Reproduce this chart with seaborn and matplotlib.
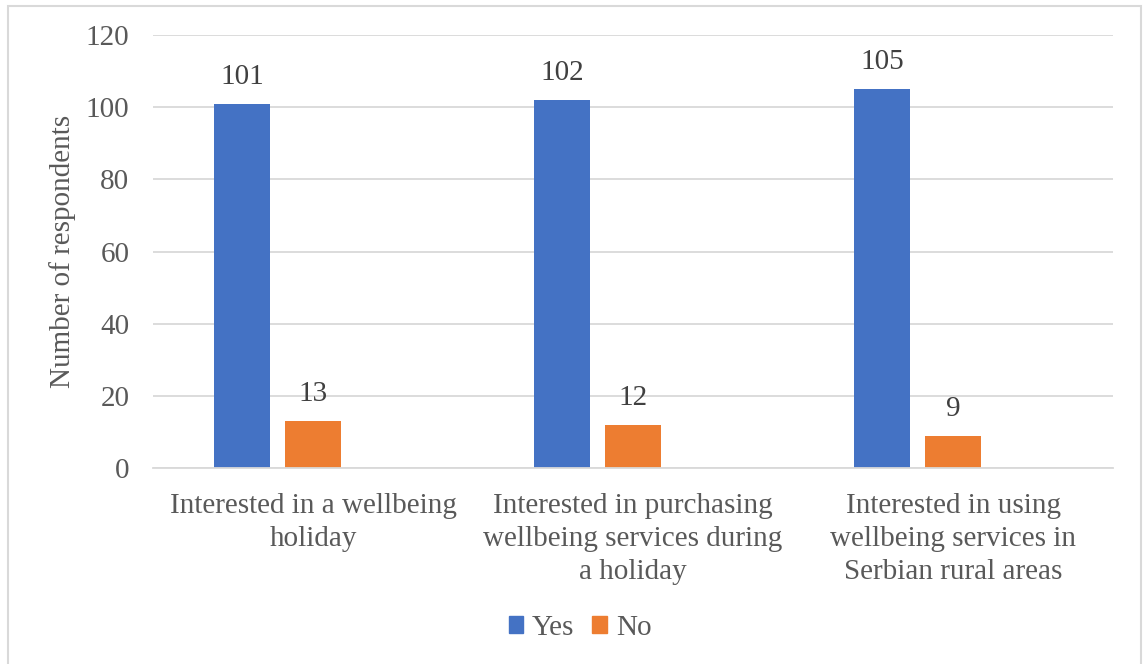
import seaborn as sns
import matplotlib.pyplot as plt
import matplotlib.patches as mpatches
import pandas as pd

categories = ['Interested in a wellbeing\nholiday',
              'Interested in purchasing\nwellbeing services during\na holiday',
              'Interested in using\nwellbeing services in\nSerbian rural areas']
yes_values = [101, 102, 105]
no_values = [13, 12, 9]
series = ['Yes', 'No']

# Excel chart had an empty third series slot, keep it so the bars sit left of centre
df = pd.DataFrame({
    'cat': categories * 3,
    'answer': ['Yes'] * 3 + ['No'] * 3 + ['_blank'] * 3,
    'count': yes_values + no_values + [0, 0, 0],
})

sns.set_theme(style='white')
plt.rcParams['font.family'] = ['Liberation Serif', 'DejaVu Serif']
grey = '#595959'
colors = {'Yes': '#4472C4', 'No': '#ED7D31', '_blank': 'white'}
fs = 21

fig = plt.figure(figsize=(11.43, 6.64), dpi=100)
ax = fig.add_axes([153 / 1143, 1 - 468 / 664, 960 / 1143, 433 / 664])

sns.barplot(data=df, x='cat', y='count', hue='answer',
            hue_order=['Yes', 'No', '_blank'], palette=colors, saturation=1,
            width=0.666, gap=0.211, linewidth=0, legend=False, ax=ax)

for cont, name in zip(ax.containers, ['Yes', 'No', '_blank']):
    if name == '_blank':
        continue
    ax.bar_label(cont, padding=10, fontsize=fs, color='#404040')

ax.set_ylim(0, 120)
ax.set_yticks(range(0, 121, 20))
ax.yaxis.grid(True, color='#D9D9D9', linewidth=1.3)
ax.set_axisbelow(True)
for s in ['top', 'right', 'left']:
    ax.spines[s].set_visible(False)
ax.spines['bottom'].set_color('#D9D9D9')
ax.spines['bottom'].set_linewidth(1.3)
ax.tick_params(axis='both', length=0, labelsize=fs, colors=grey)
ax.tick_params(axis='y', pad=17)
ax.tick_params(axis='x', pad=18)
ax.set_xlabel('')
ax.set_ylabel('Number of respondents', fontsize=fs, color=grey, labelpad=7)
for lbl in ax.get_xticklabels():
    lbl.set_linespacing(1.35)

handles = [mpatches.Patch(color=colors[s], label=s) for s in series]
fig.legend(handles=handles, loc='center', bbox_to_anchor=(0.5075, 1 - 628 / 664),
           ncol=2, frameon=False, fontsize=fs, handlelength=0.5, handleheight=0.5,
           handletextpad=0.3, columnspacing=0.62, labelcolor=grey)

fig.patches.append(mpatches.Rectangle((8 / 1143, -0.01), 1133 / 1143, 1 - 6 / 664 + 0.01,
                                      transform=fig.transFigure, fill=False,
                                      edgecolor='#D9D9D9', linewidth=1.5))

fig.savefig('out.png', dpi=100)
